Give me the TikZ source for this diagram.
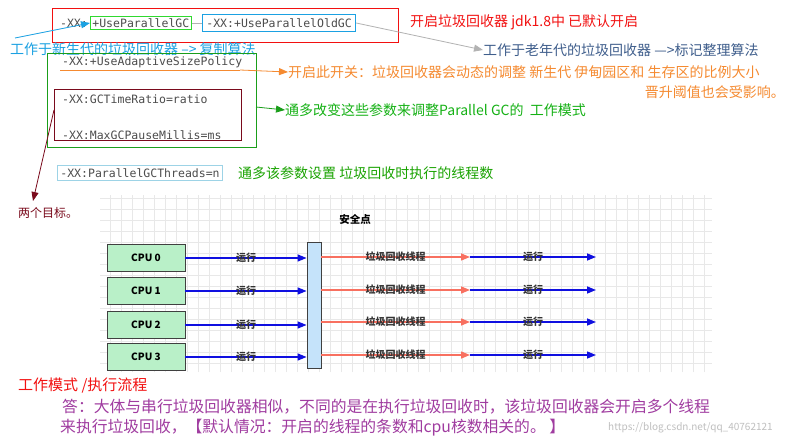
\documentclass[tikz,border=0pt]{standalone}
\usepackage{fontspec}
\setmainfont{Noto Sans CJK SC}
\setmonofont{DejaVu Sans Mono}
\usetikzlibrary{arrows.meta}
\definecolor{cred}{HTML}{F21010}
\definecolor{cblue}{HTML}{1BA1E2}
\definecolor{cgreen}{HTML}{2FD92F}
\definecolor{dgreen}{HTML}{1A9E1A}
\definecolor{corange}{HTML}{F58A30}
\definecolor{maroon}{HTML}{7A0A1C}
\definecolor{lblue}{HTML}{9DD3E6}
\definecolor{cgray}{HTML}{3F5E8C}
\definecolor{purp}{HTML}{A03CA0}
\definecolor{salm}{HTML}{F87060}
\definecolor{arblue}{HTML}{1010E0}
\definecolor{barfill}{HTML}{C5E3FA}
\definecolor{cpufill}{HTML}{B9F0C8}
\tikzset{
 code/.style={font=\ttfamily\fontsize{11.5}{13}\selectfont, text=black!70, inner sep=2pt},
 cn/.style={font=\fontsize{14}{16}\selectfont, anchor=west, inner sep=0pt},
 cpu/.style={draw=black!75, thick, fill=cpufill, minimum width=78pt, minimum height=27pt, font=\bfseries\fontsize{10}{11}\selectfont},
 lab/.style={font=\itshape\bfseries\fontsize{10}{11}\selectfont, text=black!80, inner sep=0pt},
 tip/.style={-{Triangle[length=9pt,width=7pt]}},
 flow/.style={line width=1.4pt, tip},
}
\begin{document}
\begin{tikzpicture}[x=1pt,y=-1pt]
\useasboundingbox (0,0) rectangle (808,446);
\fill[white] (0,0) rectangle (808,446);
\begin{scope}
\clip (100,195) rectangle (712,372);
\draw[black!9, step=11pt] (100,195) grid (712,372);
\end{scope}
% top
\draw[cred, thick] (52,8) rectangle (398,42);
\node[code, draw=cgreen, thick, anchor=west] (pgc) at (90,23) {+UseParallelGC};
\node[code, anchor=east] (xx) at (pgc.west) {-XX:};
\node[code, draw=cblue, thick, anchor=west, inner sep=4pt] (pogc) at (202,23) {-XX:+UseParallelOldGC};
\draw[black!30] (pgc.east) -- (pogc.west);
\node[cn, text=cred] (t1) at (410,22) {开启垃圾回收器 jdk1.8中 已默认开启};
\node[cn, text=cblue] (t2) at (10,49) {工作于新生代的垃圾回收器 --> 复制算法};
\coordinate (b1) at (15,38);
\draw[cblue, thick, tip] (b1) -- (pgc.west);
\node[cn, text=cgray] (t3) at (483,50) {工作于老年代的垃圾回收器 --->标记整理算法};
\draw[black!30, thick, tip] (pogc.east) -- (t3.west);
% green box
\draw[dgreen, thick] (47,53) rectangle (256,147);
\node[code, anchor=west] (asp) at (60,62) {-XX:+UseAdaptiveSizePolicy};
\node[cn, text=corange] (t4) at (288,72) {开启此开关：垃圾回收器会动态的调整 新生代 伊甸园区和 生存区的比例大小};
\node[cn, text=corange, anchor=east] (t4b) at (785,92) {晋升阈值也会受影响。};
\coordinate (o1) at (60,70);
\coordinate (o2) at (240,70);
\draw[corange, thick] (o1) -- (o2);
\draw[corange, thick, tip] (o2) -- (t4.west);
\draw[maroon, thick] (54,89) rectangle (241,140);
\begin{scope}
\clip (54,89) rectangle (241,139);
\node[code, anchor=west] (gtr) at (60,99) {-XX:GCTimeRatio=ratio};
\node[code, anchor=west] (mgp) at (60,135) {-XX:MaxGCPauseMillis=ms};
\end{scope}
\node[cn, text=maroon, font=\fontsize{12}{14}\selectfont] (t5) at (18,213) {两个目标。};
\coordinate (m1) at (54,110);
\draw[maroon, thick, tip] (m1) -- (33,201);
\node[cn, text=dgreen!80!green] (t6) at (285,110) {通多改变这些参数来调整Parallel GC的\ \ 工作模式};
\coordinate (g1) at (256,107);
\draw[dgreen, thick, tip] (g1) -- (t6.west);
\node[code, draw=lblue, thick, anchor=west, inner sep=3pt] (thr) at (57,173) {-XX:ParallelGCThreads=n};
\node[cn, text=green!60!black!90!yellow] (t7) at (238,173) {通多该参数设置 垃圾回收时执行的线程数};
% diagram
\node[font=\itshape\bfseries\fontsize{10.5}{11}\selectfont] (sp) at (355,220) {安全点};
\node[draw=black!75, thick, fill=barfill, minimum width=14pt, minimum height=126pt, inner sep=0pt] (bar) at (314,305) {};
\foreach \i/\y/\yr in {0/258/257,1/291/290,2/325/322,3/357/355}{
  \node[cpu] (c\i) at (146,\y) {CPU \i};
  \draw[arblue, flow] (c\i.east) -- (bar.west |- c\i.east) node[lab, midway] {运行};
  \coordinate (r\i) at (bar.east |- 0,\yr);
  \coordinate (m\i) at (470,\yr);
  \coordinate (e\i) at (596,\yr);
  \draw[salm, flow] (r\i) -- (m\i) node[lab, midway] {垃圾回收线程};
  \draw[arblue, flow] (m\i) -- (e\i) node[lab, midway] {运行};
}
% bottom
\node[cn, text=cred, font=\fontsize{15}{17}\selectfont] (t8) at (18,386) {工作模式 /执行流程};
\node[cn, text=purp, font=\fontsize{15.8}{18}\selectfont] (t9) at (62,407) {答：大体与串行垃圾回收器相似，不同的是在执行垃圾回收时，该垃圾回收器会开启多个线程};
\node[cn, text=purp, font=\fontsize{15.8}{18}\selectfont] (t10) at (60,428) {来执行垃圾回收，【默认情况：开启的线程的条数和cpu核数相关的。 】};
\node[cn, text=black!25, font=\fontsize{10}{11}\selectfont] (wm) at (608,428) {https://blog.csdn.net/qq\_40762121};
\end{tikzpicture}
\end{document}
